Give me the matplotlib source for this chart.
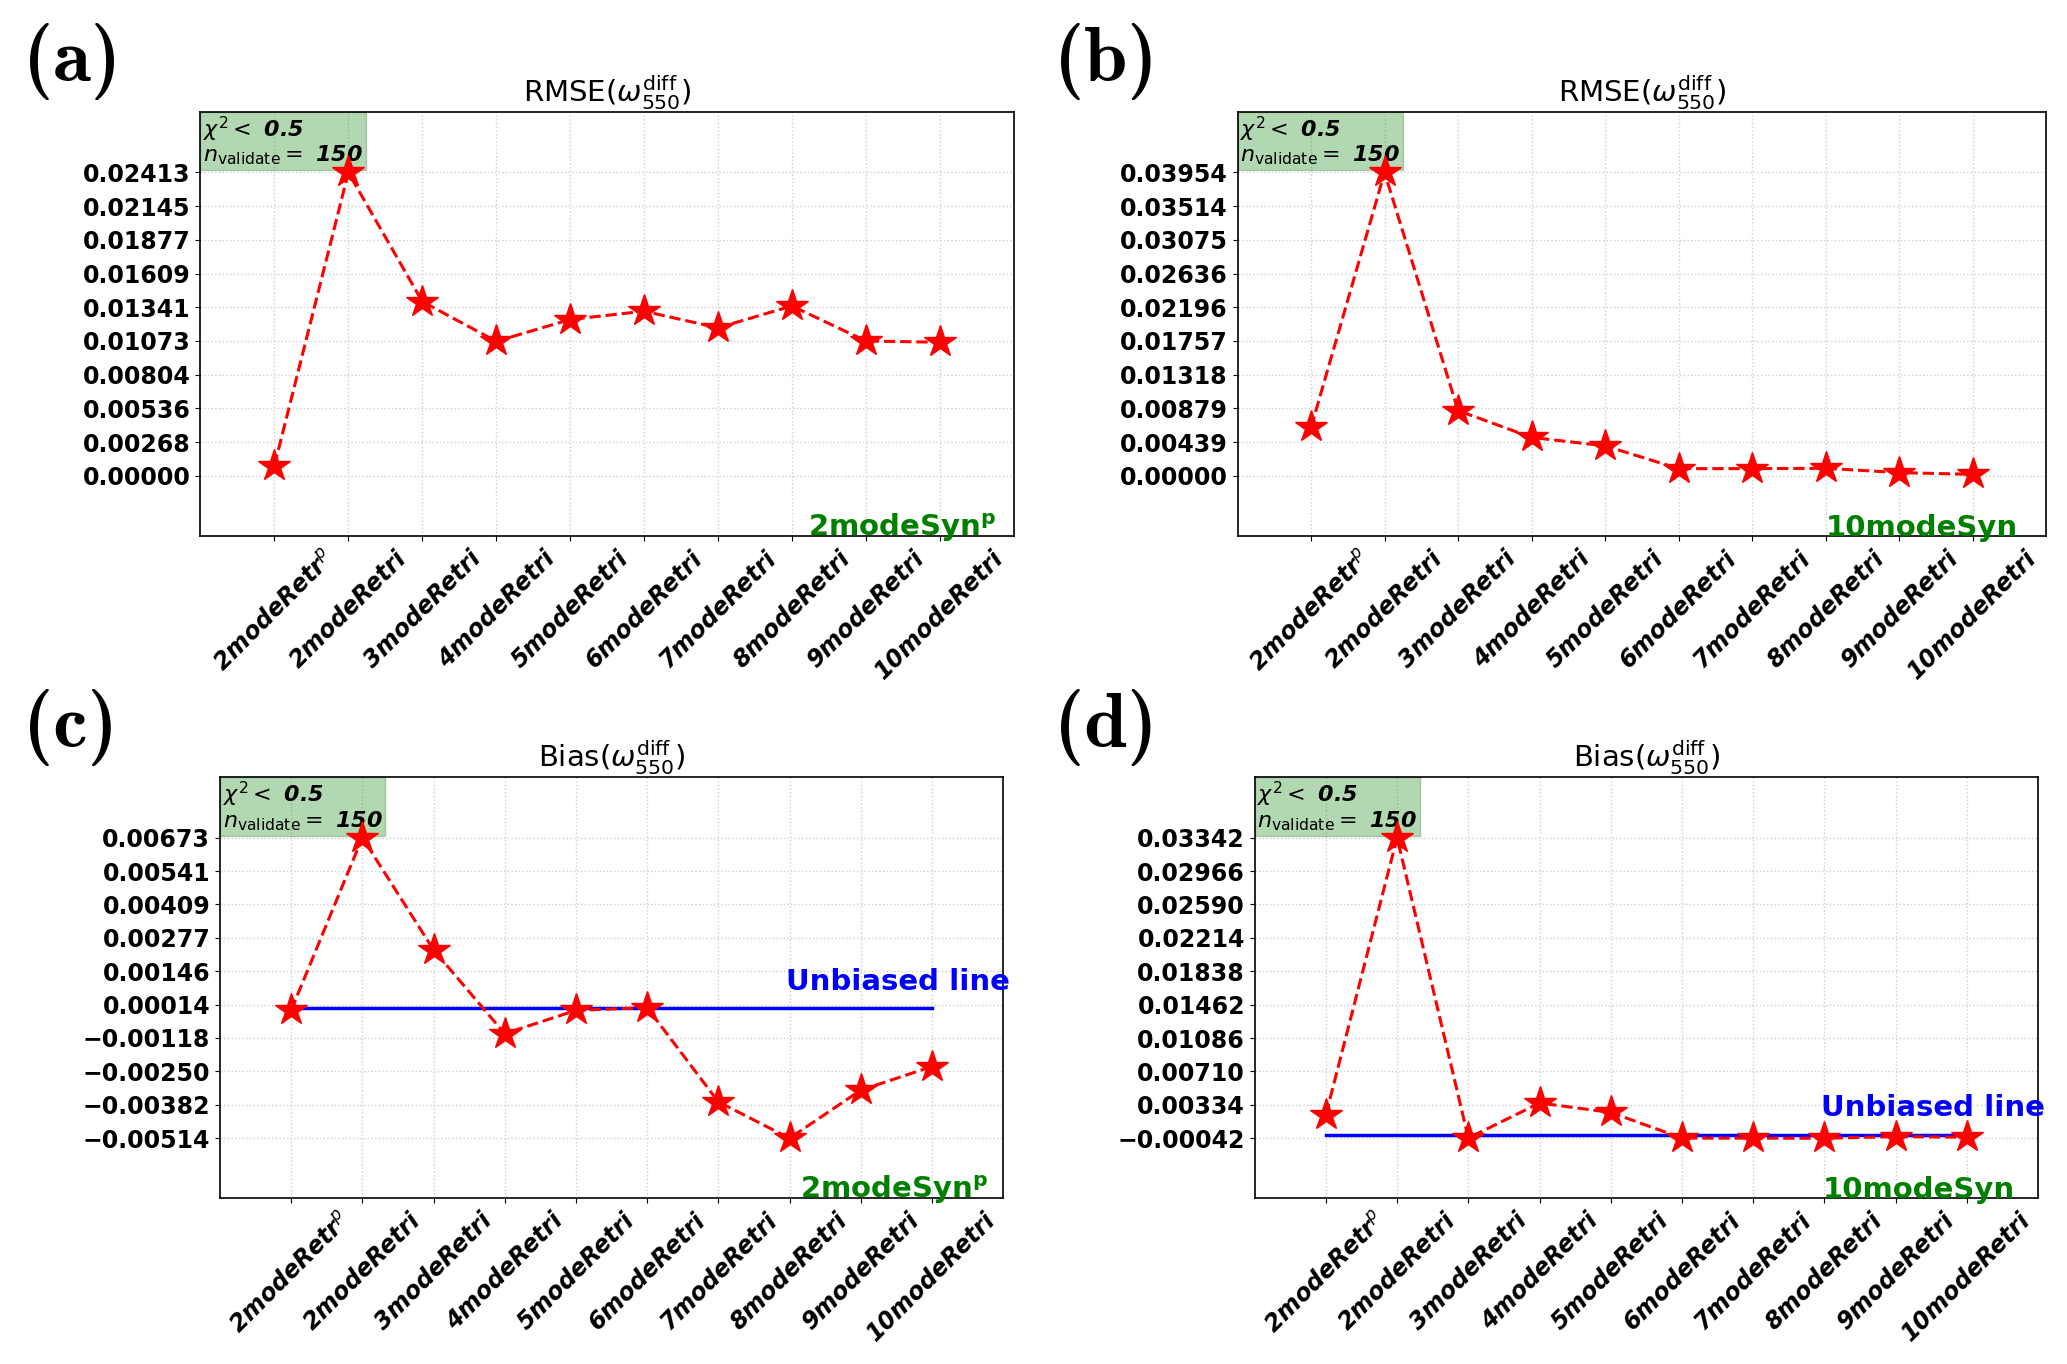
"""Four-panel RMSE / bias comparison of retrieval modes (recreated figure)."""

import matplotlib

matplotlib.use("Agg")
import matplotlib.pyplot as plt
import matplotlib.transforms as mtransforms
from matplotlib.offsetbox import AnchoredText

# ---- data -----------------------------------------------------------------
retrievals = ["2modeRetr$^p$", "2modeRetri", "3modeRetri", "4modeRetri", "5modeRetri",
              "6modeRetri", "7modeRetri", "8modeRetri", "9modeRetri", "10modeRetri"]

rmse_2mode = [0.00080, 0.02413, 0.01386, 0.01069, 0.01243,
              0.01309, 0.01177, 0.01351, 0.01072, 0.01062]
rmse_10mode = [0.00630, 0.03954, 0.00849, 0.00499, 0.00389,
               0.00092, 0.00092, 0.00096, 0.00040, 0.00017]
bias_2mode = [-0.00009, 0.00673, 0.00230, -0.00101, -0.00009,
              0.00002, -0.00370, -0.00514, -0.00324, -0.00231]
bias_10mode = [0.00223, 0.03342, -0.00040, 0.00355, 0.00249,
               -0.00040, -0.00041, -0.00042, -0.00023, -0.00030]

# tick values shown on each y axis (ten evenly spaced between the limits)
ticks_rmse_2mode = [0.00000, 0.00268, 0.00536, 0.00804, 0.01073,
                    0.01341, 0.01609, 0.01877, 0.02145, 0.02413]
ticks_rmse_10mode = [0.00000, 0.00439, 0.00879, 0.01318, 0.01757,
                     0.02196, 0.02636, 0.03075, 0.03514, 0.03954]
ticks_bias_2mode = [-0.00514, -0.00382, -0.00250, -0.00118, 0.00014,
                    0.00146, 0.00277, 0.00409, 0.00541, 0.00673]
ticks_bias_10mode = [-0.00042, 0.00334, 0.00710, 0.01086, 0.01462,
                     0.01838, 0.02214, 0.02590, 0.02966, 0.03342]

unbiased_level = 0.0
chi2_cut = "0.5"
n_validate = "150"

TITLE_RMSE = r"RMSE($\omega_{550}^{\rm diff}$)"
TITLE_BIAS = r"Bias($\omega_{550}^{\rm diff}$)"


def _fmt(v):
    s = f"{abs(v):.5f}"
    return ("\u2212" + s) if v < 0 else s


def draw_panel(ax, values, yticks, title, syn_label, syn_x, unbiased=False):
    x = list(range(len(values)))
    lo, hi = yticks[0], yticks[-1]
    span = hi - lo
    ax.set_xlim(-1, len(values))
    ax.set_ylim(lo - 0.2 * span, hi + 0.2 * span)

    ax.grid(True, color="#cfcfcf", linestyle=":", linewidth=1.0)
    ax.set_axisbelow(True)

    if unbiased:
        ax.plot([x[0], x[-1]], [unbiased_level, unbiased_level], color="blue", lw=2.5, zorder=2)
        ax.annotate("Unbiased line", (6.95, unbiased_level), xytext=(0, 9),
                    textcoords="offset points", color="blue", fontsize=21,
                    fontweight="bold", ha="left", va="bottom")

    ax.plot(x, values, color="red", linestyle="--", linewidth=2.2, marker="*",
            markersize=24, zorder=3)

    ax.set_yticks(yticks)
    ax.set_yticklabels([_fmt(v) for v in yticks], fontsize=17, fontweight="bold")
    ax.set_xticks(x)
    ax.set_xticklabels(retrievals, rotation=45, fontsize=17, fontweight="bold",
                       style="italic")
    ax.set_title(title, fontsize=21)
    for sp in ax.spines.values():
        sp.set_linewidth(1.2)

    trans = mtransforms.blended_transform_factory(ax.transData, ax.transAxes)
    ax.text(syn_x, 0.0, syn_label, transform=trans, color="green", fontsize=21,
            fontweight="bold", ha="left", va="baseline")

    at = AnchoredText(r"$\chi^2<$ " + chi2_cut + "\n" + r"$n_{\rm validate}=$ " + n_validate,
                      loc="upper left", borderpad=0.0, pad=0.12,
                      prop=dict(fontsize=16, fontweight="bold", style="italic",
                                linespacing=1.0))
    at.patch.set_facecolor("green")
    at.patch.set_edgecolor("#2f6f2f")
    at.patch.set_alpha(0.3)
    at.patch.set_boxstyle("square,pad=0")
    at.set_zorder(2.5)
    ax.add_artist(at)


fig = plt.figure(figsize=(20.67, 13.64), dpi=100, facecolor="white")

ax_a = fig.add_axes([0.0970, 0.6068, 0.3934, 0.3112])
ax_b = fig.add_axes([0.5987, 0.6068, 0.3913, 0.3112])
ax_c = fig.add_axes([0.1064, 0.1214, 0.3789, 0.3086])
ax_d = fig.add_axes([0.6070, 0.1214, 0.3790, 0.3086])

draw_panel(ax_a, rmse_2mode, ticks_rmse_2mode, TITLE_RMSE, r"2modeSyn$^{\mathbf{p}}$", 7.22)
draw_panel(ax_b, rmse_10mode, ticks_rmse_10mode, TITLE_RMSE, "10modeSyn", 7.0)
draw_panel(ax_c, bias_2mode, ticks_bias_2mode, TITLE_BIAS, r"2modeSyn$^{\mathbf{p}}$", 7.15,
           unbiased=True)
draw_panel(ax_d, bias_10mode, ticks_bias_10mode, TITLE_BIAS, "10modeSyn", 6.97, unbiased=True)

# panel tags
for tag, (tx, ty) in zip(["(a)", "(b)", "(c)", "(d)"],
                         [(0.011, 0.955), (0.510, 0.955), (0.011, 0.467), (0.510, 0.467)]):
    fig.text(tx, ty, tag, fontsize=56, family="cmb10", ha="left", va="center")

fig.savefig("out.png", dpi=100, facecolor="white")
